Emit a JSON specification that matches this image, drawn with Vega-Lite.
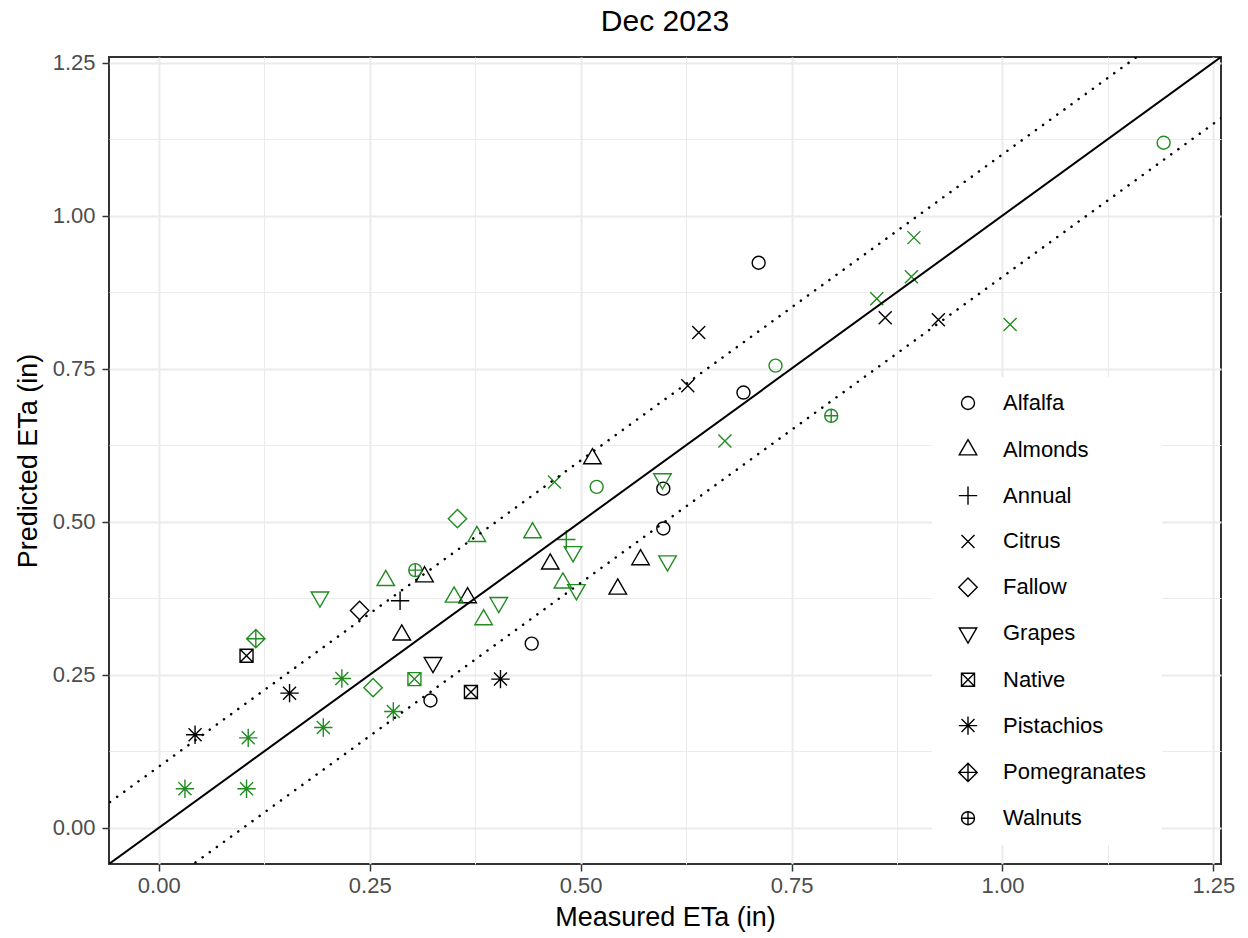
{
  "$schema": "https://vega.github.io/schema/vega-lite/v6.json",
  "autosize": {"type": "none"},
  "width": 1112,
  "height": 807,
  "padding": {"left": 109, "top": 57, "right": 27, "bottom": 74},
  "background": "white",
  "config": {
    "font": "Liberation Sans",
    "view": {"stroke": "#333333", "strokeWidth": 2}
  },
  "title": {
    "text": "Dec 2023",
    "fontSize": 30,
    "font": "Liberation Sans",
    "fontWeight": "normal",
    "color": "black",
    "anchor": "middle",
    "frame": "group",
    "offset": 15
  },
  "datasets": {
    "pts": [
      {"crop": "Alfalfa", "group": "A", "measured": 0.322, "predicted": 0.208},
      {"crop": "Alfalfa", "group": "A", "measured": 0.442, "predicted": 0.301},
      {"crop": "Alfalfa", "group": "A", "measured": 0.598, "predicted": 0.554},
      {"crop": "Alfalfa", "group": "A", "measured": 0.598, "predicted": 0.489},
      {"crop": "Alfalfa", "group": "A", "measured": 0.711, "predicted": 0.923},
      {"crop": "Alfalfa", "group": "A", "measured": 0.693, "predicted": 0.711},
      {"crop": "Alfalfa", "group": "B", "measured": 0.519, "predicted": 0.557},
      {"crop": "Alfalfa", "group": "B", "measured": 0.731, "predicted": 0.755},
      {"crop": "Alfalfa", "group": "B", "measured": 1.191, "predicted": 1.119},
      {"crop": "Almonds", "group": "A", "measured": 0.315, "predicted": 0.41},
      {"crop": "Almonds", "group": "A", "measured": 0.288, "predicted": 0.315},
      {"crop": "Almonds", "group": "A", "measured": 0.366, "predicted": 0.376},
      {"crop": "Almonds", "group": "A", "measured": 0.514, "predicted": 0.603},
      {"crop": "Almonds", "group": "A", "measured": 0.464, "predicted": 0.431},
      {"crop": "Almonds", "group": "A", "measured": 0.544, "predicted": 0.39},
      {"crop": "Almonds", "group": "A", "measured": 0.571, "predicted": 0.438},
      {"crop": "Almonds", "group": "B", "measured": 0.269, "predicted": 0.404},
      {"crop": "Almonds", "group": "B", "measured": 0.377, "predicted": 0.476},
      {"crop": "Almonds", "group": "B", "measured": 0.35, "predicted": 0.377},
      {"crop": "Almonds", "group": "B", "measured": 0.385, "predicted": 0.34},
      {"crop": "Almonds", "group": "B", "measured": 0.443, "predicted": 0.482},
      {"crop": "Almonds", "group": "B", "measured": 0.479, "predicted": 0.4},
      {"crop": "Annual", "group": "A", "measured": 0.286, "predicted": 0.371},
      {"crop": "Annual", "group": "B", "measured": 0.483, "predicted": 0.471},
      {"crop": "Citrus", "group": "A", "measured": 0.627, "predicted": 0.722},
      {"crop": "Citrus", "group": "A", "measured": 0.64, "predicted": 0.809},
      {"crop": "Citrus", "group": "A", "measured": 0.861, "predicted": 0.833},
      {"crop": "Citrus", "group": "A", "measured": 0.924, "predicted": 0.83},
      {"crop": "Citrus", "group": "B", "measured": 0.469, "predicted": 0.565},
      {"crop": "Citrus", "group": "B", "measured": 0.671, "predicted": 0.632},
      {"crop": "Citrus", "group": "B", "measured": 0.851, "predicted": 0.864},
      {"crop": "Citrus", "group": "B", "measured": 0.892, "predicted": 0.9},
      {"crop": "Citrus", "group": "B", "measured": 0.895, "predicted": 0.964},
      {"crop": "Citrus", "group": "B", "measured": 1.009, "predicted": 0.822},
      {"crop": "Fallow", "group": "A", "measured": 0.238, "predicted": 0.355},
      {"crop": "Fallow", "group": "B", "measured": 0.254, "predicted": 0.229},
      {"crop": "Fallow", "group": "B", "measured": 0.354, "predicted": 0.505},
      {"crop": "Grapes", "group": "A", "measured": 0.325, "predicted": 0.27},
      {"crop": "Grapes", "group": "B", "measured": 0.191, "predicted": 0.377},
      {"crop": "Grapes", "group": "B", "measured": 0.403, "predicted": 0.368},
      {"crop": "Grapes", "group": "B", "measured": 0.491, "predicted": 0.451},
      {"crop": "Grapes", "group": "B", "measured": 0.495, "predicted": 0.389},
      {"crop": "Grapes", "group": "B", "measured": 0.603, "predicted": 0.436},
      {"crop": "Grapes", "group": "B", "measured": 0.597, "predicted": 0.57},
      {"crop": "Native", "group": "A", "measured": 0.104, "predicted": 0.281},
      {"crop": "Native", "group": "A", "measured": 0.37, "predicted": 0.222},
      {"crop": "Native", "group": "B", "measured": 0.303, "predicted": 0.243},
      {"crop": "Pistachios", "group": "A", "measured": 0.043, "predicted": 0.152},
      {"crop": "Pistachios", "group": "A", "measured": 0.155, "predicted": 0.22},
      {"crop": "Pistachios", "group": "A", "measured": 0.405, "predicted": 0.243},
      {"crop": "Pistachios", "group": "B", "measured": 0.031, "predicted": 0.064},
      {"crop": "Pistachios", "group": "B", "measured": 0.106, "predicted": 0.147},
      {"crop": "Pistachios", "group": "B", "measured": 0.104, "predicted": 0.064},
      {"crop": "Pistachios", "group": "B", "measured": 0.195, "predicted": 0.164},
      {"crop": "Pistachios", "group": "B", "measured": 0.217, "predicted": 0.244},
      {"crop": "Pistachios", "group": "B", "measured": 0.278, "predicted": 0.19},
      {"crop": "Pomegranates", "group": "B", "measured": 0.115, "predicted": 0.309},
      {"crop": "Walnuts", "group": "B", "measured": 0.304, "predicted": 0.421},
      {"crop": "Walnuts", "group": "B", "measured": 0.797, "predicted": 0.673}
    ],
    "identity": [
      {"measured": -0.1, "predicted": -0.1},
      {"measured": 1.3, "predicted": 1.3}
    ],
    "bands": [
      {"band": "upper", "measured": -0.1, "predicted": 0.0},
      {"band": "upper", "measured": 1.3, "predicted": 1.4},
      {"band": "lower", "measured": -0.1, "predicted": -0.2},
      {"band": "lower", "measured": 1.3, "predicted": 1.2}
    ]
  },
  "layer": [
    {
      "data": {"name": "pts"},
      "mark": {"type": "point", "filled": false, "size": 169, "strokeWidth": 1.4, "opacity": 1},
      "encoding": {
        "x": {
          "field": "measured", "type": "quantitative",
          "scale": {"domain": [-0.059, 1.259], "nice": false, "zero": false},
          "axis": {
            "title": "Measured ETa (in)",
            "values": [0, 0.125, 0.25, 0.375, 0.5, 0.625, 0.75, 0.875, 1, 1.125, 1.25],
            "labelExpr": "datum.value % 0.25 === 0 ? format(datum.value, '.2f') : ''",
            "labelOverlap": false,
            "labelFlush": false,
            "domain": false,
            "grid": true,
            "gridColor": "#EBEBEB",
            "gridWidth": {"condition": {"test": "datum.value % 0.25 !== 0", "value": 1}, "value": 2},
            "tickOpacity": {"condition": {"test": "datum.value % 0.25 !== 0", "value": 0}, "value": 1},
            "tickColor": "#333333",
            "tickSize": 7,
            "tickWidth": 1.5,
            "labelFont": "Liberation Sans",
            "labelFontSize": 22,
            "labelColor": "#4D4D4D",
            "labelPadding": 4,
            "titleFont": "Liberation Sans",
            "titleFontSize": 27,
            "titleFontWeight": "normal",
            "titleColor": "black",
            "titlePadding": 8
          }
        },
        "y": {
          "field": "predicted", "type": "quantitative",
          "scale": {"domain": [-0.059, 1.259], "nice": false, "zero": false},
          "axis": {
            "title": "Predicted ETa (in)",
            "values": [0, 0.125, 0.25, 0.375, 0.5, 0.625, 0.75, 0.875, 1, 1.125, 1.25],
            "labelExpr": "datum.value % 0.25 === 0 ? format(datum.value, '.2f') : ''",
            "labelOverlap": false,
            "labelFlush": false,
            "domain": false,
            "grid": true,
            "gridColor": "#EBEBEB",
            "gridWidth": {"condition": {"test": "datum.value % 0.25 !== 0", "value": 1}, "value": 2},
            "tickOpacity": {"condition": {"test": "datum.value % 0.25 !== 0", "value": 0}, "value": 1},
            "tickColor": "#333333",
            "tickSize": 7,
            "tickWidth": 1.5,
            "labelFont": "Liberation Sans",
            "labelFontSize": 22,
            "labelColor": "#4D4D4D",
            "labelPadding": 7,
            "titleFont": "Liberation Sans",
            "titleFontSize": 27,
            "titleFontWeight": "normal",
            "titleColor": "black",
            "titlePadding": 10
          }
        },
        "color": {
          "field": "group", "type": "nominal",
          "scale": {"domain": ["A", "B"], "range": ["black", "#228B22"]},
          "legend": null
        },
        "shape": {
          "field": "crop", "type": "nominal",
          "scale": {
            "domain": ["Alfalfa", "Almonds", "Annual", "Citrus", "Fallow", "Grapes", "Native", "Pistachios", "Pomegranates", "Walnuts"],
            "range": [
              "circle",
              "M0,-1.555L1.347,0.778L-1.347,0.778Z",
              "M-1.414,0L1.414,0M0,-1.414L0,1.414",
              "M-1,-1L1,1M-1,1L1,-1",
              "M0,-1.414L1.414,0L0,1.414L-1.414,0Z",
              "M0,1.555L1.347,-0.778L-1.347,-0.778Z",
              "M-1,-1L1,-1L1,1L-1,1ZM-1,-1L1,1M-1,1L1,-1",
              "M-1,-1L1,1M-1,1L1,-1M-1.414,0L1.414,0M0,-1.414L0,1.414",
              "M0,-1.414L1.414,0L0,1.414L-1.414,0ZM-1.414,0L1.414,0M0,-1.414L0,1.414",
              "M1,0A1,1,0,1,1,-1,0A1,1,0,1,1,1,0ZM-1,0L1,0M0,-1L0,1"
            ]
          },
          "legend": {
            "title": null,
            "orient": "none",
            "legendX": 823,
            "legendY": 320,
            "padding": 15,
            "fillColor": "white",
            "symbolSize": 169,
            "symbolStrokeColor": "black",
            "symbolFillColor": "transparent",
            "symbolStrokeWidth": 1.4,
            "symbolOffset": 10,
            "labelOffset": 24,
            "labelFont": "Liberation Sans",
            "labelFontSize": 22,
            "labelColor": "black",
            "rowPadding": 22.8
          }
        }
      }
    },
    {
      "data": {"name": "identity"},
      "mark": {"type": "line", "color": "black", "strokeWidth": 2, "clip": true},
      "encoding": {
        "x": {"field": "measured", "type": "quantitative"},
        "y": {"field": "predicted", "type": "quantitative"}
      }
    },
    {
      "data": {"name": "bands"},
      "mark": {"type": "line", "color": "black", "strokeWidth": 2.5, "strokeDash": [0.1, 8.7], "strokeCap": "round", "clip": true},
      "encoding": {
        "x": {"field": "measured", "type": "quantitative"},
        "y": {"field": "predicted", "type": "quantitative"},
        "detail": {"field": "band", "type": "nominal"}
      }
    }
  ]
}
